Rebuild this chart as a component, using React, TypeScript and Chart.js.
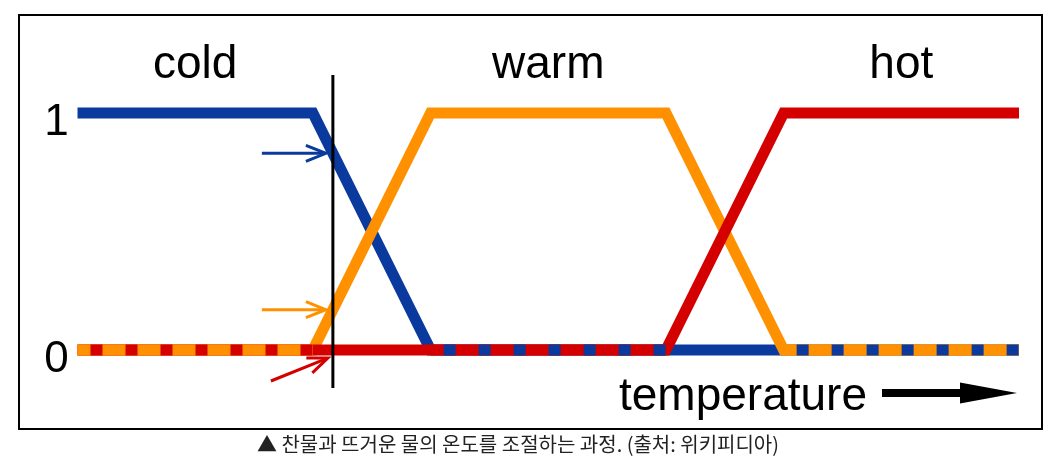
import { useEffect, useRef } from "react";
import { Chart, registerables } from "chart.js";

Chart.register(...registerables);

// Fuzzy membership functions over temperature (shared breakpoints)
const temperatures = [0, 2, 3, 5, 6, 8];
const coldValues = [1, 1, 0, 0, 0, 0];
const warmValues = [0, 0, 1, 1, 0, 0];
const hotValues = [0, 0, 0, 0, 1, 1];
const categoryLabels = ["cold", "warm", "hot"];

// Y-axis tick labels
const yTickValues = [1, 0];
const yTickLabels = ["1", "0"];

const axisTitle = "temperature";

// Sample temperature marked by the vertical line and its extent on the y scale
const currentTemperature = 2.17;
const markerRange = [-0.16, 1.16];

const caption = "▲ 찬물과 뜨거운 물의 온도를 조절하는 과정. (출처: 위키피디아)";

const COLORS = ["#0b3a9e", "#ff9100", "#d40000"];
// Where zero lines coincide, the higher priority colour forms the base stroke
const BASE_PRIORITY = [0, 2, 1];
const LINE_WIDTH = 11;
const LABEL_FONT = "46px 'Liberation Sans', Arial, sans-serif";
const TICK_FONT = "44px 'Liberation Sans', Arial, sans-serif";

const series = [coldValues, warmValues, hotValues];

function membershipAt(values: number[], t: number): number {
  for (let i = 0; i < temperatures.length - 1; i++) {
    const a = temperatures[i];
    const b = temperatures[i + 1];
    if (t >= a && t <= b) {
      const f = (t - a) / (b - a);
      return values[i] + (values[i + 1] - values[i]) * f;
    }
  }
  return values[values.length - 1];
}

function lineStyle(color: string, width: number) {
  return {
    borderColor: color,
    backgroundColor: color,
    borderWidth: width,
    borderCapStyle: "butt" as const,
    borderJoinStyle: "miter" as const,
    pointRadius: 0,
    pointHoverRadius: 0,
    tension: 0,
    fill: false,
    clip: false as const,
  };
}

function buildDatasets() {
  // bottom-to-top drawing order
  const list: any[] = [];
  series.forEach((vals, k) => {
    list.push({
      label: categoryLabels[k],
      data: temperatures.map((t, i) => ({ x: t, y: vals[i] })),
      ...lineStyle(COLORS[k], LINE_WIDTH),
    });
  });

  // coinciding zero segments: solid base colour with the other series dashed over it
  for (let i = 0; i < temperatures.length - 1; i++) {
    const zeroSeries = series
      .map((v, k) => (v[i] === 0 && v[i + 1] === 0 ? k : -1))
      .filter((k) => k >= 0);
    if (zeroSeries.length < 2) continue;
    zeroSeries.sort((a, b) => BASE_PRIORITY[b] - BASE_PRIORITY[a]);
    zeroSeries.forEach((k, j) => {
      const seg = [
        { x: temperatures[i], y: series[k][i] },
        { x: temperatures[i + 1], y: series[k][i + 1] },
      ];
      const ds: any = {
        label: categoryLabels[k] + "-overlap",
        data: seg,
        ...lineStyle(COLORS[k], LINE_WIDTH),
      };
      if (j > 0) {
        ds.borderDash = [12, 23];
        ds.borderDashOffset = 22;
      }
      list.push(ds);
    });
  }

  // vertical marker at the sample temperature
  list.push({
    label: "marker",
    data: markerRange.map((y) => ({ x: currentTemperature, y })),
    ...lineStyle("#000000", 3),
  });

  return list.reverse();
}

function drawArrow(
  ctx: CanvasRenderingContext2D,
  x0: number,
  y0: number,
  x1: number,
  y1: number,
  color: string
) {
  const ang = Math.atan2(y1 - y0, x1 - x0);
  const headLen = 20;
  const headHalf = 8;
  ctx.save();
  ctx.strokeStyle = color;
  ctx.lineWidth = 3;
  ctx.lineCap = "butt";
  ctx.lineJoin = "miter";
  ctx.beginPath();
  ctx.moveTo(x0, y0);
  ctx.lineTo(x1 - 1.5 * Math.cos(ang), y1 - 1.5 * Math.sin(ang));
  ctx.stroke();
  const bx = x1 - headLen * Math.cos(ang);
  const by = y1 - headLen * Math.sin(ang);
  const px = -Math.sin(ang) * headHalf;
  const py = Math.cos(ang) * headHalf;
  ctx.beginPath();
  ctx.moveTo(bx + px, by + py);
  ctx.lineTo(x1, y1);
  ctx.lineTo(bx - px, by - py);
  ctx.stroke();
  ctx.restore();
}

const annotationPlugin = {
  id: "fuzzyAnnotations",
  afterDraw(chart: any) {
    const { ctx, scales } = chart;
    const xs = scales.x;
    const ys = scales.y;
    ctx.save();
    ctx.fillStyle = "#000000";

    // category labels centred over each plateau
    ctx.font = LABEL_FONT;
    ctx.textAlign = "center";
    ctx.textBaseline = "alphabetic";
    series.forEach((vals, k) => {
      for (let i = 0; i < temperatures.length - 1; i++) {
        if (vals[i] === 1 && vals[i + 1] === 1) {
          const cx = xs.getPixelForValue((temperatures[i] + temperatures[i + 1]) / 2);
          ctx.fillText(categoryLabels[k], cx, ys.getPixelForValue(1) - 35);
          break;
        }
      }
    });

    // y tick labels
    ctx.font = TICK_FONT;
    ctx.textAlign = "center";
    yTickValues.forEach((v, i) => {
      ctx.fillText(yTickLabels[i], xs.left - 21, ys.getPixelForValue(v) + 22);
    });

    // arrows pointing at each membership value for the sample temperature
    const mx = xs.getPixelForValue(currentTemperature);
    series.forEach((vals, k) => {
      const v = membershipAt(vals, currentTemperature);
      const py = ys.getPixelForValue(v);
      if (v === 0) {
        const tx = mx - 5;
        const ty = py + 8;
        drawArrow(ctx, tx - 57, ty + 23, tx, ty, COLORS[k]);
      } else {
        const tx = mx - 7;
        drawArrow(ctx, tx - 64, py, tx, py, COLORS[k]);
      }
    });

    // axis title with arrow
    const tipX = xs.right - 2;
    const ay = ys.getPixelForValue(0) + 43;
    const headBase = tipX - 57;
    const shaftStart = tipX - 135;
    ctx.fillStyle = "#000000";
    ctx.fillRect(shaftStart, ay - 4, headBase - shaftStart + 2, 8);
    ctx.beginPath();
    ctx.moveTo(headBase, ay - 10.5);
    ctx.lineTo(tipX, ay);
    ctx.lineTo(headBase, ay + 10.5);
    ctx.closePath();
    ctx.fill();

    ctx.font = LABEL_FONT;
    ctx.textAlign = "right";
    ctx.fillText(axisTitle, shaftStart - 15, ys.getPixelForValue(0) + 60);

    ctx.restore();
  },
};

export default function App() {
  const canvasRef = useRef<HTMLCanvasElement | null>(null);

  useEffect(() => {
    if (!canvasRef.current) return;
    const chart = new Chart(canvasRef.current, {
      type: "line",
      data: { datasets: buildDatasets() },
      options: {
        responsive: false,
        animation: false,
        events: [],
        layout: {
          padding: { left: 77.5, right: 33, top: 65.6, bottom: 69.6 },
        },
        scales: {
          x: { type: "linear", min: 0, max: 8, display: false },
          y: { type: "linear", min: -0.2, max: 1.2, display: false },
        },
        plugins: {
          legend: { display: false },
          tooltip: { enabled: false },
          title: { display: false },
        },
      },
      plugins: [annotationPlugin],
    });
    return () => chart.destroy();
  }, []);

  return (
    <div
      style={{
        position: "absolute",
        left: 0,
        top: 0,
        width: 1052,
        height: 467,
        background: "#ffffff",
        overflow: "hidden",
      }}
    >
      <div
        style={{
          position: "absolute",
          left: 18,
          top: 14,
          width: 1025,
          height: 416,
          border: "2px solid #000",
          boxSizing: "border-box",
        }}
      />
      <canvas
        ref={canvasRef}
        width={1052}
        height={467}
        style={{ position: "absolute", left: 0, top: 0, width: 1052, height: 467 }}
      />
      <div
        style={{
          position: "absolute",
          left: 0,
          top: 429,
          width: 1036,
          textAlign: "center",
          fontFamily: "'Noto Sans CJK KR', 'Noto Sans', sans-serif",
          fontSize: 20,
          lineHeight: "29px",
          color: "#222",
          whiteSpace: "nowrap",
        }}
      >
        {caption}
      </div>
    </div>
  );
}
